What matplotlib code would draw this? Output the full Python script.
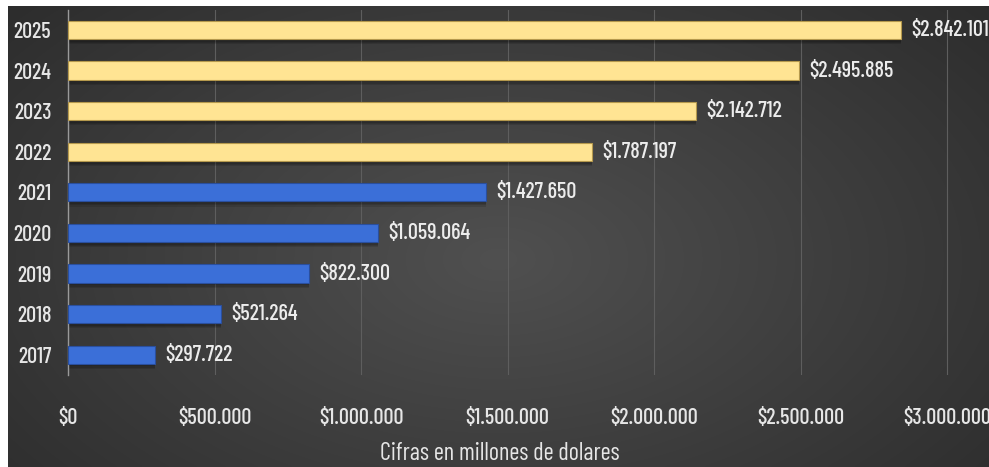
import numpy as np
import matplotlib.pyplot as plt
from matplotlib.ticker import FuncFormatter

years = ['2017', '2018', '2019', '2020', '2021', '2022', '2023', '2024', '2025']
valores = [297722, 521264, 822300, 1059064, 1427650, 1787197, 2142712, 2495885, 2842101]
proyectado = [False, False, False, False, False, True, True, True, True]

plt.rcParams['font.family'] = ['Barlow Condensed', 'DejaVu Sans']
plt.rcParams['font.weight'] = 'medium'


def pesos(v):
    return '$' + f'{int(v):,}'.replace(',', '.')


W, H = 989, 467
fig = plt.figure(figsize=(W / 100, H / 100), dpi=100)
fig.patch.set_facecolor('white')

# dark radial background
bg = fig.add_axes([8 / W, 0, 1 - 8 / W, 461 / H])
bg.axis('off')
yy, xx = np.mgrid[0:1:240j, 0:1:500j]
r = np.sqrt(((xx - 0.5) / 0.72) ** 2 + ((yy - 0.55) / 0.9) ** 2)
shade = np.clip(1 - r, 0, 1)
c0 = np.array([0x2a, 0x2a, 0x2a]) / 255
c1 = np.array([0x50, 0x50, 0x50]) / 255
img = c0 + (c1 - c0) * shade[..., None]
bg.imshow(img, aspect='auto', extent=[0, 1, 0, 1], interpolation='bicubic')
bg.set_xlim(0, 1)
bg.set_ylim(0, 1)

left, right = 68, 975
top, bottom = 9.7, 375
ax = fig.add_axes([left / W, 1 - bottom / H, (right - left) / W, (bottom - top) / H])
ax.patch.set_alpha(0)
xmax = 3e6 * (right - left) / 879
ax.set_xlim(0, xmax)
ax.set_ylim(-0.5, len(years) - 0.5)

ypos = np.arange(len(years))
colores = ['#ffe493' if p else '#3b6fd8' for p in proyectado]
bordes = ['#b5994d' if p else '#2a4f9e' for p in proyectado]

# soft shadow under the bars
for k in range(3):
    ax.barh(ypos - 0.06 - 0.03 * k, valores, height=0.46, color='black',
            alpha=0.12, zorder=2)
ax.barh(ypos, valores, height=0.45, color=colores, edgecolor=bordes,
        linewidth=0.8, zorder=3)

for y, v in zip(ypos, valores):
    ax.text(v + 35000, y, pesos(v), va='center', ha='left',
            color='#ececec', fontsize=16, zorder=4)

ax.set_xticks(np.arange(0, 3000001, 500000))
ax.xaxis.set_major_formatter(FuncFormatter(lambda x, p: pesos(x)))
ax.set_yticks(ypos)
ax.set_yticklabels(years)
ax.tick_params(axis='both', length=0, colors='#e6e6e6', labelsize=16)
ax.tick_params(axis='x', pad=24)
ax.tick_params(axis='y', pad=12)
ax.grid(axis='x', color='#5e5e5e', linewidth=0.8, zorder=0)
ax.set_axisbelow(True)
for s in ['top', 'right', 'bottom']:
    ax.spines[s].set_visible(False)
ax.spines['left'].set_color('#9a9a9a')
ax.spines['left'].set_linewidth(1.0)

ax.set_xlabel('Cifras en millones de dolares', color='#e6e6e6', fontsize=17.5)
ax.xaxis.set_label_coords((500 - left) / (right - left), -(442 - bottom) / (bottom - top))

fig.savefig('out.png', dpi=100)
